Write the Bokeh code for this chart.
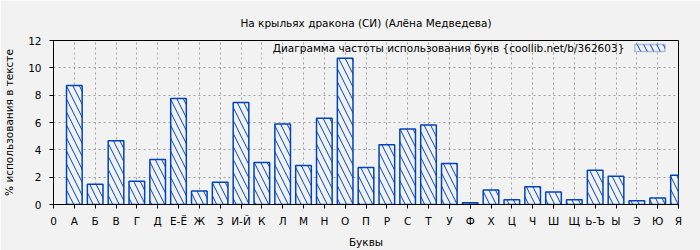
from bokeh.plotting import figure
from bokeh.models import Range1d, FixedTicker, Label, BoxAnnotation, ColumnDataSource
from bokeh.embed import file_html
from bokeh.resources import INLINE

letters = ["А", "Б", "В", "Г", "Д", "Е-Ё", "Ж", "З", "И-Й", "К", "Л", "М", "Н", "О", "П",
           "Р", "С", "Т", "У", "Ф", "Х", "Ц", "Ч", "Ш", "Щ", "Ь-Ъ", "Ы", "Э", "Ю", "Я"]
freq = [8.7, 1.49, 4.66, 1.71, 3.29, 7.76, 0.98, 1.63, 7.47, 3.07, 5.89, 2.86, 6.32, 10.7, 2.71,
        4.37, 5.52, 5.81, 3.0, 0.12, 1.06, 0.34, 1.3, 0.91, 0.34, 2.5, 2.07, 0.27, 0.48, 2.14]
title = "На крыльях дракона (СИ) (Алёна Медведева)"
legend_text = "Диаграмма частоты использования букв {coollib.net/b/362603}"
x_label = "Буквы"
y_label = "% использования в тексте"

FONT = "DejaVu Sans"
FS = "10.5px"
BLUE = "#0044bb"
BG = "#f2f2f2"

pos = list(range(1, len(letters) + 1))
src = ColumnDataSource(dict(x=pos, top=freq))

p = figure(width=700, height=250, output_backend="svg", toolbar_location=None,
           x_range=Range1d(0, len(letters)), y_range=Range1d(0, 12),
           title=title)
p.min_border_left = 53
p.min_border_right = 22
p.min_border_top = 40
p.min_border_bottom = 44
p.background_fill_color = BG
p.border_fill_color = BG
p.outline_line_color = "black"
p.outline_line_width = 1

p.title.text_font = FONT
p.title.text_font_size = FS
p.title.text_font_style = "normal"
p.title.text_color = "black"
p.title.align = "center"
p.title.standoff = 24

p.vbar(x="x", top="top", width=0.75, source=src, fill_color=BG, line_color=BLUE,
       line_width=1.5, hatch_pattern="\\", hatch_color=BLUE, hatch_scale=13, hatch_weight=1)

p.xaxis.ticker = FixedTicker(ticks=[0] + pos)
p.xaxis.major_label_overrides = {i: l for i, l in zip(pos, letters)}
p.yaxis.ticker = FixedTicker(ticks=[0, 2, 4, 6, 8, 10, 12])

for ax in (p.xaxis, p.yaxis):
    ax.axis_line_color = "black"
    ax.major_tick_line_color = "black"
    ax.major_tick_out = 4
    ax.major_tick_in = 0
    ax.minor_tick_line_color = None
    ax.major_label_text_font = FONT
    ax.major_label_text_font_size = FS
    ax.major_label_text_color = "black"
    ax.axis_label_text_font = FONT
    ax.axis_label_text_font_size = FS
    ax.axis_label_text_font_style = "normal"
    ax.axis_label_text_color = "black"
p.xaxis.axis_label = x_label
p.yaxis.axis_label = y_label
p.xaxis.major_label_standoff = 6
p.xaxis.axis_label_standoff = 6
p.yaxis.major_label_standoff = 8
p.yaxis.axis_label_standoff = 10

p.xgrid.ticker = FixedTicker(ticks=pos)
p.xgrid.grid_line_color = "#a0a0a0"
p.xgrid.grid_line_dash = "2 3"
p.ygrid.ticker = FixedTicker(ticks=[2, 4, 6, 8, 10])
p.ygrid.grid_line_color = "#a0a0a0"
p.ygrid.grid_line_dash = "2 3"

p.add_layout(Label(x=27.4, y=11.45, text=legend_text, text_align="right", text_baseline="middle",
                   text_font=FONT, text_font_size=FS, text_color="black"))
p.add_layout(BoxAnnotation(left=27.9, right=29.35, bottom=11.19, top=11.7, fill_color=BG, fill_alpha=1,
                           line_color=BLUE, line_width=1.5, hatch_pattern="\\", hatch_color=BLUE,
                           hatch_scale=13, hatch_weight=1))

open("out.html", "w").write(file_html(p, INLINE))
